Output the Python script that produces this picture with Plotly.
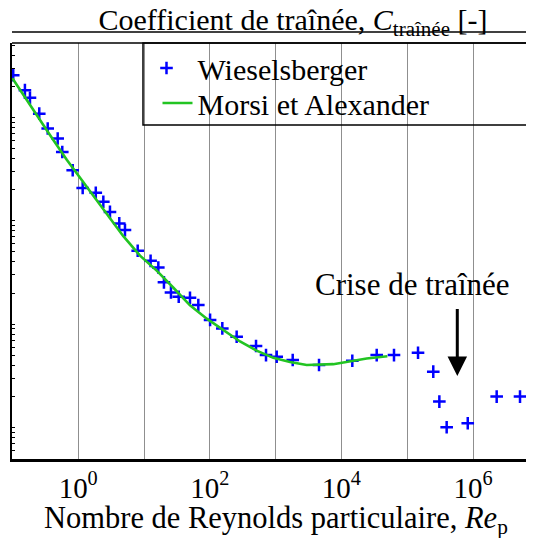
import math
import plotly.graph_objects as go

# Wieselsberger measurements (Re_p, C_trainee)
re_wiesel = [0.103, 0.155, 0.185, 0.256, 0.344, 0.488, 0.573, 0.825, 1.17, 1.85,
             2.41, 3.04, 4.21, 5.14, 8.02, 12.6, 16.5, 20.1, 25.7, 33.7,
             50.0, 66.9, 101, 155, 256, 504, 715, 1040, 1820, 4570,
             14650, 34400, 63000, 146000, 249000, 308000, 398000, 832000, 2.29e6, 5.18e6]
cd_wiesel = [256, 184, 155, 109, 78.3, 62.6, 46.4, 30.9, 20.8, 18.7,
             15.3, 12.2, 9.44, 8.13, 5.13, 4.10, 3.54, 2.54, 2.03, 1.84,
             1.80, 1.53, 1.10, 0.910, 0.755, 0.614, 0.502, 0.484, 0.450, 0.402,
             0.443, 0.502, 0.502, 0.528, 0.347, 0.178, 0.1005, 0.110, 0.199, 0.199]

# Morsi & Alexander correlation
re_morsi = [0.1, 0.2, 0.37, 0.67, 1.2, 2.7, 4.85, 8.7, 15.6, 28, 50, 90, 160, 288,
            516, 923, 1655, 2970, 7530, 13500, 24200, 50000]
cd_morsi = [240, 122, 68, 39, 23.5, 11.5, 7.1, 4.6, 3.3, 2.25, 1.52, 1.13, 0.875, 0.68,
            0.555, 0.472, 0.43, 0.402, 0.41, 0.435, 0.465, 0.49]

# Axis ticks
x_label_decades = [0, 2, 4, 6]
x_labels = ["10<sup>0</sup>", "10<sup>2</sup>", "10<sup>4</sup>", "10<sup>6</sup>"]
x_minor_decades = [1, 3, 5]
y_decades = [-2, -1, 0, 1, 2, 3]

# Drag crisis arrow (Re, C tip, C tail)
crisis_re = 5.77e5
crisis_tip = 0.315
crisis_tail = 1.45

FONT = "'Liberation Serif', 'Times New Roman', serif"
FS = 30

# page body has an 8px margin: figure is sized to end at the window edge
W, H = 526, 530
ML, MR, MT, MB = 4, 0, 35, 79
PW, PH = W - ML - MR, H - MT - MB  # 522 x 416


def px_x(x):  # page x -> paper x
    return (x - 8 - ML) / PW


def px_y(y):  # page y -> paper y
    return (H - MB - (y - 8)) / PH


fig = go.Figure()
fig.add_trace(go.Scatter(
    x=re_wiesel, y=cd_wiesel, mode="markers", name="Wieselsberger",
    marker=dict(symbol="cross-thin", size=9, color="#0000ff",
                line=dict(color="#0000ff", width=2.5)),
    legend="legend",
))
fig.add_trace(go.Scatter(
    x=re_morsi, y=cd_morsi, mode="lines", name="Morsi et Alexander",
    line=dict(color="#22c422", width=2.6),
    legend="legend2",
))

fig.update_layout(
    width=W, height=H, autosize=False,
    margin=dict(l=ML, r=MR, t=MT, b=MB, autoexpand=False),
    paper_bgcolor="white", plot_bgcolor="white",
    font=dict(family=FONT, size=FS, color="black"),
    showlegend=True,
    legend=dict(x=px_x(168) - 32.5 / PW, y=px_y(68), xanchor="left", yanchor="middle",
                bgcolor="rgba(0,0,0,0)", borderwidth=0, itemwidth=52,
                font=dict(family=FONT, size=FS, color="black")),
    legend2=dict(x=px_x(199) - 41.5 / PW, y=px_y(103), xanchor="left", yanchor="middle",
                 bgcolor="rgba(0,0,0,0)", borderwidth=0, itemwidth=30,
                 font=dict(family=FONT, size=FS, color="black")),
    title=dict(text="Coefficient de traînée, <i>C</i><sub>traînée</sub> [-]",
               x=(293 - 8) / W, xref="container", xanchor="center",
               y=1 - (19.5 - 8) / H, yref="container", yanchor="middle",
               font=dict(family=FONT, size=FS, color="black")),
)

fig.update_xaxes(
    type="log", range=[-1.006, 6.927], automargin=False,
    tickvals=[10 ** d for d in x_label_decades], ticktext=x_labels,
    showgrid=True, gridcolor="#8f8f8f", gridwidth=1,
    minor=dict(tickvals=[10 ** d for d in x_minor_decades], showgrid=True,
               gridcolor="#8f8f8f", gridwidth=1, ticks=""),
    showline=True, linecolor="black", linewidth=2.5,
    ticks="", zeroline=False, ticklabelstandoff=1,
    tickfont=dict(family=FONT, size=29, color="black"),
)
fig.update_yaxes(
    type="log", range=[-1.305, 2.721], automargin=False,
    tickvals=[10 ** d for d in y_decades], showticklabels=False,
    ticks="inside", ticklen=3, tickwidth=1, tickcolor="black",
    minor=dict(tickvals=[k * 10 ** d for d in y_decades for k in range(2, 10)],
               ticks="inside", ticklen=3, tickwidth=1, tickcolor="black", showgrid=False),
    showgrid=False, zeroline=False,
    showline=True, linecolor="black", linewidth=2.2,
)

# x-axis title
fig.add_annotation(
    x=px_x(276), y=px_y(520), xref="paper", yref="paper",
    text="Nombre de Reynolds particulaire, <i>Re</i><sub>p</sub>",
    showarrow=False, xanchor="center", yanchor="middle",
    font=dict(family=FONT, size=30.5, color="black"),
)

# top frame line, upper rule, legend box
fig.add_shape(type="line", xref="paper", yref="paper", x0=0, x1=1, y0=1, y1=1,
              line=dict(color="black", width=1.5))
fig.add_shape(type="line", xref="paper", yref="paper", x0=0, x1=1,
              y0=px_y(32), y1=px_y(32),
              line=dict(color="black", width=1.5))
fig.add_shape(type="rect", xref="paper", yref="paper",
              x0=px_x(143), x1=px_x(533), y0=px_y(125), y1=1,
              line=dict(color="black", width=1.5), fillcolor="rgba(0,0,0,0)")

fig.add_annotation(
    x=math.log10(crisis_re), y=math.log10(crisis_tip),
    ax=math.log10(crisis_re), ay=math.log10(crisis_tail),
    xref="x", yref="y", axref="x", ayref="y",
    text="", showarrow=True, arrowhead=2, arrowsize=1.3, arrowwidth=3,
    arrowcolor="black", standoff=0,
)
fig.add_annotation(
    x=px_x(412), y=px_y(284), xref="paper", yref="paper",
    text="Crise de traînée", showarrow=False, xanchor="center", yanchor="middle",
    font=dict(family=FONT, size=31, color="black"),
)

fig.write_html("out.html")
